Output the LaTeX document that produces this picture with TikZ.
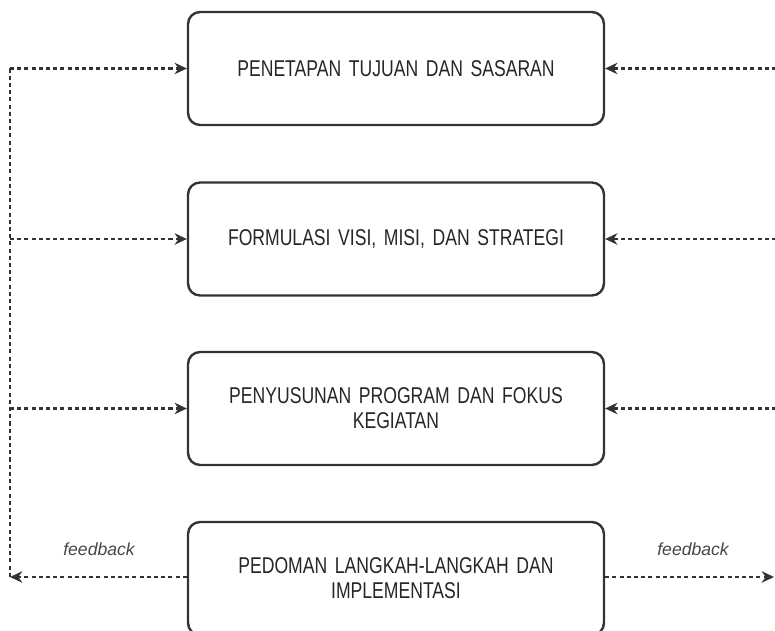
\documentclass[tikz,border=0pt]{standalone}
\usepackage{fontspec}
\setmainfont{Liberation Sans}[FakeStretch=0.77,WordSpace=0.8]
\newfontfamily\fbfont{Liberation Sans}
\usepackage{tikz}
\usetikzlibrary{arrows.meta}
\definecolor{garis}{HTML}{333333}
\definecolor{teks}{HTML}{262626}
\tikzset{
  tahap/.style   = {draw=garis,line width=1.35pt,rounded corners=0.24cm,
                    minimum width=8.32cm,minimum height=2.26cm,
                    align=center,text width=7.6cm,text=teks,
                    font=\fontsize{13}{14.2}\selectfont},
  fbline/.style  = {draw=garis,line width=1.3pt,dash pattern=on 2.3pt off 1.8pt},
  fbarr/.style   = {fbline,-{Stealth[length=7pt,width=6.5pt]}},
  fblabel/.style = {text=teks!85,font=\fbfont\fontsize{10}{12}\selectfont\itshape}
}
\begin{document}
\begin{tikzpicture}[x=0.02cm,y=-0.02cm]
  \useasboundingbox[fill=white] (0,0) rectangle (775,631);
  % --- the four stages, one under the other
  \node[tahap] (tujuan)  at (396,68.5)  {PENETAPAN TUJUAN DAN SASARAN};
  \node[tahap] (visi)    at (396,239)   {FORMULASI VISI, MISI, DAN STRATEGI};
  \node[tahap] (program) at (396,408.5) {PENYUSUNAN PROGRAM DAN FOKUS\\KEGIATAN};
  \node[tahap] (pedoman) at (396,578.5) {PEDOMAN LANGKAH-LANGKAH DAN\\IMPLEMENTASI};
  % --- left feedback rail
  \coordinate (kiri1) at (10,68.5);
  \coordinate (kiri2) at (10,239);
  \coordinate (kiri3) at (10,408.5);
  \coordinate (kiri4) at (10,577);
  \draw[fbline] (kiri1) -- (kiri4);
  \draw[fbarr] (kiri1) -- (tujuan.west);
  \draw[fbarr] (kiri2) -- (visi.west);
  \draw[fbarr] (kiri3) -- (program.west);
  \draw[fbarr] (pedoman.west |- kiri4) -- (kiri4);
  % --- right feedback rail, its vertical part lies past the edge
  \coordinate (kanan1) at (776,68.5);
  \coordinate (kanan2) at (776,239);
  \coordinate (kanan3) at (776,408.5);
  \coordinate (kanan4) at (774,577);
  \draw[fbarr] (kanan1) -- (tujuan.east);
  \draw[fbarr] (kanan2) -- (visi.east);
  \draw[fbarr] (kanan3) -- (program.east);
  \draw[fbarr] (pedoman.east |- kanan4) -- (kanan4);
  % --- labels on the bottom arrows
  \node[fblabel] (fbkiri)  at (99,549)  {feedback};
  \node[fblabel] (fbkanan) at (693,549) {feedback};
\end{tikzpicture}
\end{document}
